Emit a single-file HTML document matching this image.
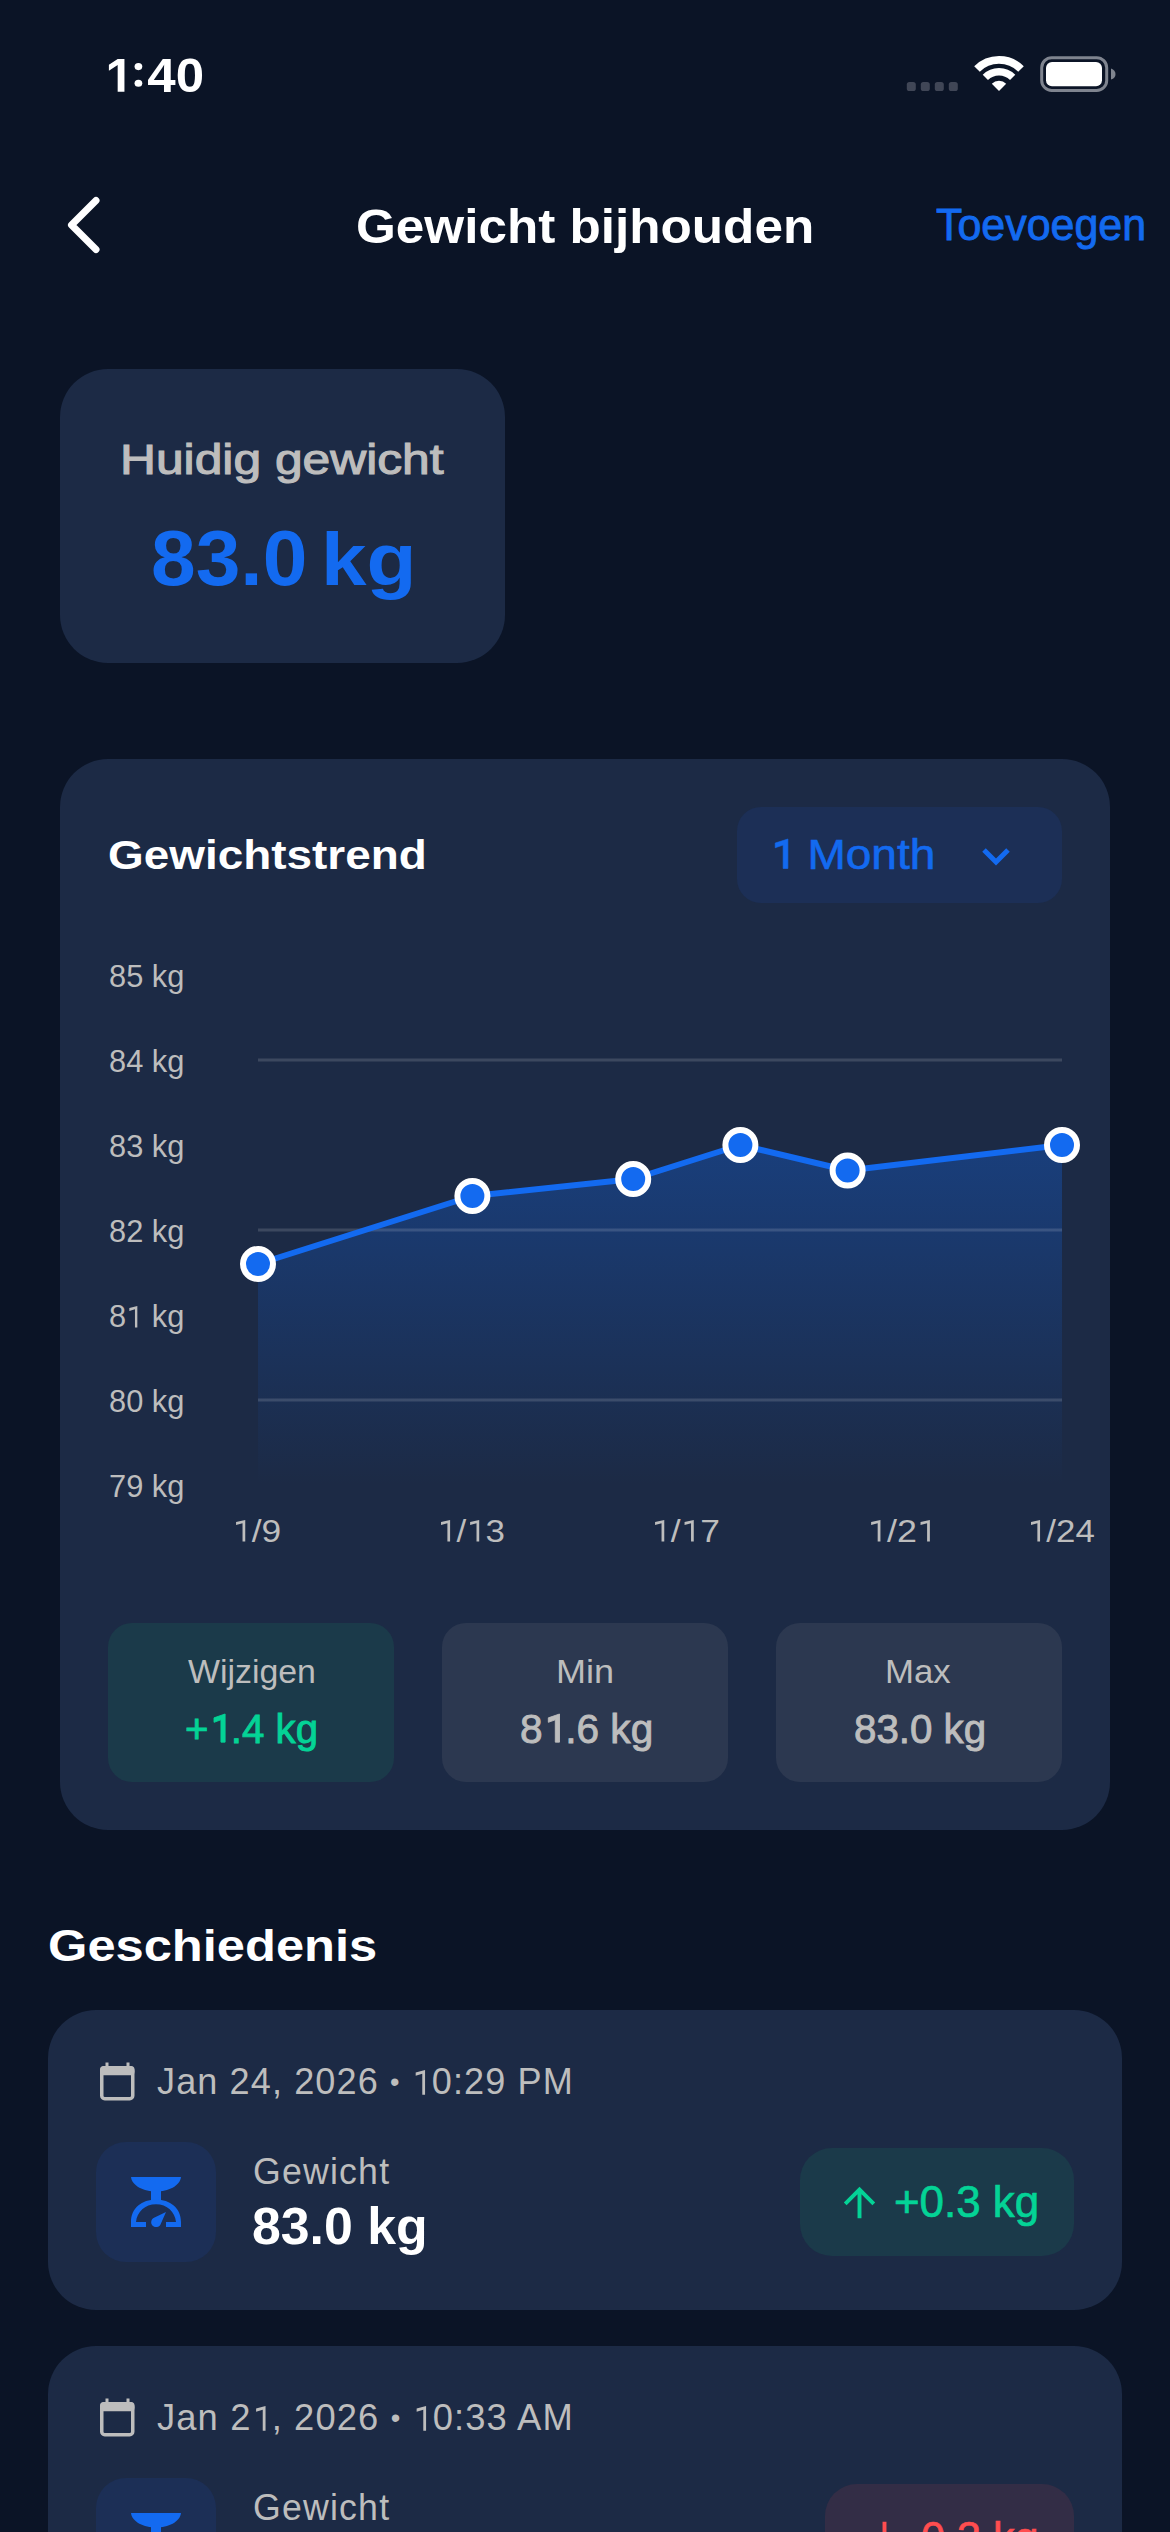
<!DOCTYPE html>
<html><head><meta charset="utf-8">
<style>
html,body{margin:0;padding:0;}
body{width:1170px;height:2532px;background:#0B1426;position:relative;overflow:hidden;font-family:"Liberation Sans",sans-serif;}
.card{position:absolute;background:#1C2A45;}
.box{position:absolute;}
.tx{position:absolute;}
.bu{font-size:27px;position:relative;top:-3px;}
.one{display:inline-block;vertical-align:baseline;overflow:visible;}
.bl{display:inline-block;width:0;height:0;vertical-align:baseline;}
svg{display:block;}
</style></head><body>
<!-- status bar -->
<svg style="position:absolute;left:900px;top:45px" width="230" height="60" viewBox="900 45 230 60">
<rect x="906.8" y="82" width="9" height="9" rx="2.6" fill="#404656"/>
<rect x="920.8" y="82" width="9" height="9" rx="2.6" fill="#404656"/>
<rect x="934.8" y="82" width="9" height="9" rx="2.6" fill="#404656"/>
<rect x="948.8" y="82" width="9" height="9" rx="2.6" fill="#404656"/>
<path d="M999,91 L991.8,83.8 A10.2,10.2 0 0 1 1006.2,83.8 Z" fill="#FFFFFF"/>
<path d="M985.35,77.35 A19.3,19.3 0 0 1 1012.65,77.35" fill="none" stroke="#FFFFFF" stroke-width="7.4"/>
<path d="M977.0,69.0 A31.2,31.2 0 0 1 1021.0,69.0" fill="none" stroke="#FFFFFF" stroke-width="7.9"/>
<rect x="1041.7" y="57.7" width="65" height="32.7" rx="10" fill="none" stroke="#7F848F" stroke-width="3"/>
<rect x="1046" y="62" width="56" height="24.2" rx="6" fill="#FFFFFF"/>
<path d="M1111,68.5 Q1115.5,70 1115.5,74 Q1115.5,78.2 1111,79.6 Z" fill="#7F848F"/>
</svg>
<!-- back chevron -->
<svg style="position:absolute;left:50px;top:180px" width="80" height="90" viewBox="50 180 80 90">
<path d="M96,200.5 L71.5,225 L96,249.5" fill="none" stroke="#FFFFFF" stroke-width="7" stroke-linecap="round" stroke-linejoin="round"/>
</svg>
<!-- current weight card -->
<div class="card" style="left:60px;top:369px;width:445px;height:294px;border-radius:48px;"></div>
<!-- chart card -->
<div class="card" style="left:60px;top:759px;width:1050px;height:1071px;border-radius:48px;"></div>
<div class="box" style="left:737px;top:807px;width:325px;height:96px;border-radius:24px;background:#1C2F56;"></div>
<svg style="position:absolute;left:975px;top:840px" width="45" height="30" viewBox="975 840 45 30">
<path d="M984,850 L996,862 L1008,850" fill="none" stroke="#136AF0" stroke-width="5"/>
</svg>
<svg style="position:absolute;left:0;top:0" width="1170" height="1600" viewBox="0 0 1170 1600">
<defs><linearGradient id="fg" x1="0" y1="1145" x2="0" y2="1485" gradientUnits="userSpaceOnUse">
<stop offset="0" stop-color="#136AF0" stop-opacity="0.32"/><stop offset="1" stop-color="#136AF0" stop-opacity="0"/></linearGradient></defs>
<path d="M258,1264 L472.4,1196 L633.2,1179 L740.4,1145 L847.6,1170.5 L1062,1145 L1062,1485 L258,1485 Z" fill="url(#fg)"/>
<rect x="258" y="1058.5" width="804" height="3" fill="rgba(255,255,255,0.14)"/>
<rect x="258" y="1228.5" width="804" height="3" fill="rgba(255,255,255,0.14)"/>
<rect x="258" y="1398.5" width="804" height="3" fill="rgba(255,255,255,0.14)"/>
<path d="M258,1264 L472.4,1196 L633.2,1179 L740.4,1145 L847.6,1170.5 L1062,1145" fill="none" stroke="#136AF0" stroke-width="6" stroke-linejoin="round"/>
<circle cx="258" cy="1264" r="15" fill="#136AF0" stroke="#FFFFFF" stroke-width="6"/>
<circle cx="472.4" cy="1196" r="15" fill="#136AF0" stroke="#FFFFFF" stroke-width="6"/>
<circle cx="633.2" cy="1179" r="15" fill="#136AF0" stroke="#FFFFFF" stroke-width="6"/>
<circle cx="740.4" cy="1145" r="15" fill="#136AF0" stroke="#FFFFFF" stroke-width="6"/>
<circle cx="847.6" cy="1170.5" r="15" fill="#136AF0" stroke="#FFFFFF" stroke-width="6"/>
<circle cx="1062" cy="1145" r="15" fill="#136AF0" stroke="#FFFFFF" stroke-width="6"/>
</svg>
<!-- stat boxes -->
<div class="box" style="left:108px;top:1623px;width:286px;height:158.5px;border-radius:24px;background:#1B3A4A;"></div>
<div class="box" style="left:442px;top:1623px;width:286px;height:158.5px;border-radius:24px;background:#2C3850;"></div>
<div class="box" style="left:776px;top:1623px;width:286px;height:158.5px;border-radius:24px;background:#2C3850;"></div>
<!-- history -->
<div class="card" style="left:48px;top:2010px;width:1074px;height:300px;border-radius:48px;"></div>
<svg style="position:absolute;left:99.6px;top:2062.3px" width="36" height="40" viewBox="0 0 36 40">
<rect x="1.75" y="5.75" width="31" height="31" rx="3" fill="none" stroke="#BDBDBD" stroke-width="3.5"/>
<rect x="0" y="4" width="34.5" height="9.3" rx="3.5" fill="#BDBDBD"/>
<rect x="5.5" y="0.5" width="3" height="7" fill="#BDBDBD"/>
<rect x="26.5" y="0.5" width="3" height="7" fill="#BDBDBD"/>
</svg>
<div class="box" style="left:96px;top:2142px;width:120px;height:120px;border-radius:30px;background:#1C2F56;"></div>
<svg style="position:absolute;left:131px;top:2177px" width="50" height="50" viewBox="0 0 50 50">
<path d="M0,0 H50 C49,9 37,14.5 25,14.5 C13,14.5 1,9 0,0 Z" fill="#136AF0"/>
<rect x="20" y="13" width="10" height="11" fill="#136AF0"/>
<path d="M0,50 V45 C0,31 11,22.5 25,22.5 C39,22.5 50,31 50,45 V50 H35 V45 H45 C44,35 36,27.3 25,27.3 C14,27.3 6,35 5,45 H15 V50 Z" fill="#136AF0"/>
<path d="M35,35 L29.5,47.5 C28,51 22,51 20.5,47 C19.5,44 21,41.5 23.5,40.5 Z" fill="#136AF0"/>
</svg>
<div class="box" style="left:800px;top:2148px;width:274px;height:108px;border-radius:32px;background:#1B3A4A;"></div>
<svg style="position:absolute;left:836.2px;top:2178.7px" width="47" height="47" viewBox="0 0 24 24"><path d="M4 12l1.41 1.41L11 7.83V20h2V7.83l5.58 5.59L20 12l-8-8-8 8z" fill="#04D396"/></svg>

<div class="card" style="left:48px;top:2346px;width:1074px;height:300px;border-radius:48px;"></div>
<svg style="position:absolute;left:99.6px;top:2398.3px" width="36" height="40" viewBox="0 0 36 40">
<rect x="1.75" y="5.75" width="31" height="31" rx="3" fill="none" stroke="#BDBDBD" stroke-width="3.5"/>
<rect x="0" y="4" width="34.5" height="9.3" rx="3.5" fill="#BDBDBD"/>
<rect x="5.5" y="0.5" width="3" height="7" fill="#BDBDBD"/>
<rect x="26.5" y="0.5" width="3" height="7" fill="#BDBDBD"/>
</svg>
<div class="box" style="left:96px;top:2478px;width:120px;height:120px;border-radius:30px;background:#1C2F56;"></div>
<svg style="position:absolute;left:131px;top:2513px" width="50" height="50" viewBox="0 0 50 50">
<path d="M0,0 H50 C49,9 37,14.5 25,14.5 C13,14.5 1,9 0,0 Z" fill="#136AF0"/>
<rect x="20" y="13" width="10" height="11" fill="#136AF0"/>
<path d="M0,50 V45 C0,31 11,22.5 25,22.5 C39,22.5 50,31 50,45 V50 H35 V45 H45 C44,35 36,27.3 25,27.3 C14,27.3 6,35 5,45 H15 V50 Z" fill="#136AF0"/>
<path d="M35,35 L29.5,47.5 C28,51 22,51 20.5,47 C19.5,44 21,41.5 23.5,40.5 Z" fill="#136AF0"/>
</svg>
<div class="box" style="left:824.5px;top:2484px;width:249.5px;height:108px;border-radius:32px;background:#332D46;"></div>
<svg style="position:absolute;left:860.5px;top:2513.7px" width="47" height="47" viewBox="0 0 24 24"><path d="M20 12l-1.41-1.41L13 16.17V4h-2v12.17l-5.58-5.59L4 12l8 8 8-8z" fill="#FF4D4F"/></svg>

<!-- texts -->
<div id="t_time" class="tx" style="left:101.65px;top:51.51px;font-size:47.5px;line-height:47.5px;font-weight:700;color:#FFFFFF;white-space:nowrap;transform:scaleX(1.0741);transform-origin:0 0;"><svg class="one" width="26.41" height="32.68" viewBox="0 -0.688 0.556 0.688"><path d="M0.4400,-0.6880 L0.4400,0.0000 L0.3072,0.0000 L0.3072,-0.5607 L0.1352,-0.4417 L0.1352,-0.5662 L0.3072,-0.6880 Z" fill="currentColor"/></svg><svg class="one" width="15.82" height="32.68" viewBox="0 -0.688 0.333 0.688"><circle cx="0.1665" cy="-0.1768" r="0.0758" fill="currentColor"/><circle cx="0.1665" cy="-0.5284" r="0.0758" fill="currentColor"/></svg>40<span class="bl"></span></div>
<div id="t_title" class="tx" style="left:355.92px;top:203.01px;font-size:47.5px;line-height:47.5px;font-weight:700;color:#FFFFFF;white-space:nowrap;transform:scaleX(1.0784);transform-origin:0 0;">Gewicht bijhouden<span class="bl"></span></div>
<div id="t_add" class="tx" style="left:936.00px;top:202.32px;font-size:44.8px;line-height:44.8px;font-weight:400;color:#136AF0;white-space:nowrap;-webkit-text-stroke:0.9px #136AF0;transform:scaleX(0.9581);transform-origin:0 0;">Toevoegen<span class="bl"></span></div>
<div id="t_hg" class="tx" style="left:120.16px;top:438.81px;font-size:42px;line-height:42px;font-weight:400;color:#BDBDBD;white-space:nowrap;-webkit-text-stroke:1.1px #BDBDBD;transform:scaleX(1.1848);transform-origin:0 0;">Huidig gewicht<span class="bl"></span></div>
<div id="t_cur" class="tx" style="left:150.93px;top:520.01px;font-size:77.5px;line-height:77.5px;font-weight:700;color:#136AF0;white-space:nowrap;transform:scaleX(1.0366);transform-origin:0 0;">83.0<span class="bl"></span></div>
<div id="t_curkg" class="tx" style="left:321.03px;top:523.00px;font-size:73.5px;line-height:73.5px;font-weight:700;color:#136AF0;white-space:nowrap;transform:scaleX(1.1134);transform-origin:0 0;">kg<span class="bl"></span></div>
<div id="t_trend" class="tx" style="left:107.80px;top:834.82px;font-size:40.5px;line-height:40.5px;font-weight:700;color:#FFFFFF;white-space:nowrap;transform:scaleX(1.1330);transform-origin:0 0;">Gewichtstrend<span class="bl"></span></div>
<div id="t_month" class="tx" style="left:768.90px;top:832.82px;font-size:42.9px;line-height:42.9px;font-weight:400;color:#136AF0;white-space:nowrap;-webkit-text-stroke:0.6px #136AF0;transform:scaleX(1.0737);transform-origin:0 0;"><svg class="one" width="23.85" height="29.52" viewBox="0 -0.688 0.556 0.688"><path d="M0.4100,-0.6880 L0.4100,0.0000 L0.3068,0.0000 L0.3068,-0.5463 L0.1348,-0.4844 L0.1348,-0.5937 Z" fill="currentColor" stroke="currentColor" stroke-width="0.0140" stroke-linejoin="round"/></svg> Month<span class="bl"></span></div>
<div id="t_y85" class="tx" style="left:109.01px;top:961.31px;font-size:31.2px;line-height:31.2px;font-weight:400;color:#BDBDBD;white-space:nowrap;transform:scaleX(0.9876);transform-origin:0 0;">85 kg<span class="bl"></span></div>
<div id="t_y84" class="tx" style="left:109.01px;top:1046.31px;font-size:31.2px;line-height:31.2px;font-weight:400;color:#BDBDBD;white-space:nowrap;transform:scaleX(0.9876);transform-origin:0 0;">84 kg<span class="bl"></span></div>
<div id="t_y83" class="tx" style="left:109.01px;top:1131.31px;font-size:31.2px;line-height:31.2px;font-weight:400;color:#BDBDBD;white-space:nowrap;transform:scaleX(0.9876);transform-origin:0 0;">83 kg<span class="bl"></span></div>
<div id="t_y82" class="tx" style="left:109.01px;top:1216.31px;font-size:31.2px;line-height:31.2px;font-weight:400;color:#BDBDBD;white-space:nowrap;transform:scaleX(0.9876);transform-origin:0 0;">82 kg<span class="bl"></span></div>
<div id="t_y81" class="tx" style="left:109.01px;top:1301.31px;font-size:31.2px;line-height:31.2px;font-weight:400;color:#BDBDBD;white-space:nowrap;transform:scaleX(0.9876);transform-origin:0 0;">8<svg class="one" width="17.35" height="21.47" viewBox="0 -0.688 0.556 0.688"><path d="M0.3750,-0.6880 L0.3750,0.0000 L0.2979,0.0000 L0.2979,-0.5834 L0.1149,-0.5277 L0.1149,-0.6206 Z" fill="currentColor"/></svg> kg<span class="bl"></span></div>
<div id="t_y80" class="tx" style="left:109.01px;top:1386.31px;font-size:31.2px;line-height:31.2px;font-weight:400;color:#BDBDBD;white-space:nowrap;transform:scaleX(0.9876);transform-origin:0 0;">80 kg<span class="bl"></span></div>
<div id="t_y79" class="tx" style="left:109.01px;top:1471.31px;font-size:31.2px;line-height:31.2px;font-weight:400;color:#BDBDBD;white-space:nowrap;transform:scaleX(0.9876);transform-origin:0 0;">79 kg<span class="bl"></span></div>
<div id="t_x1_9" class="tx" style="left:232.31px;top:1515.51px;font-size:31.2px;line-height:31.2px;font-weight:400;color:#BDBDBD;white-space:nowrap;transform:scaleX(1.1328);transform-origin:0 0;"><svg class="one" width="17.35" height="21.47" viewBox="0 -0.688 0.556 0.688"><path d="M0.3750,-0.6880 L0.3750,0.0000 L0.2979,0.0000 L0.2979,-0.5834 L0.1149,-0.5277 L0.1149,-0.6206 Z" fill="currentColor"/></svg>/9<span class="bl"></span></div>
<div id="t_x1_13" class="tx" style="left:436.86px;top:1515.51px;font-size:31.2px;line-height:31.2px;font-weight:400;color:#BDBDBD;white-space:nowrap;transform:scaleX(1.1197);transform-origin:0 0;"><svg class="one" width="17.35" height="21.47" viewBox="0 -0.688 0.556 0.688"><path d="M0.3750,-0.6880 L0.3750,0.0000 L0.2979,0.0000 L0.2979,-0.5834 L0.1149,-0.5277 L0.1149,-0.6206 Z" fill="currentColor"/></svg>/<svg class="one" width="17.35" height="21.47" viewBox="0 -0.688 0.556 0.688"><path d="M0.3750,-0.6880 L0.3750,0.0000 L0.2979,0.0000 L0.2979,-0.5834 L0.1149,-0.5277 L0.1149,-0.6206 Z" fill="currentColor"/></svg>3<span class="bl"></span></div>
<div id="t_x1_17" class="tx" style="left:650.84px;top:1515.51px;font-size:31.2px;line-height:31.2px;font-weight:400;color:#BDBDBD;white-space:nowrap;transform:scaleX(1.1344);transform-origin:0 0;"><svg class="one" width="17.35" height="21.47" viewBox="0 -0.688 0.556 0.688"><path d="M0.3750,-0.6880 L0.3750,0.0000 L0.2979,0.0000 L0.2979,-0.5834 L0.1149,-0.5277 L0.1149,-0.6206 Z" fill="currentColor"/></svg>/<svg class="one" width="17.35" height="21.47" viewBox="0 -0.688 0.556 0.688"><path d="M0.3750,-0.6880 L0.3750,0.0000 L0.2979,0.0000 L0.2979,-0.5834 L0.1149,-0.5277 L0.1149,-0.6206 Z" fill="currentColor"/></svg>7<span class="bl"></span></div>
<div id="t_x1_21" class="tx" style="left:866.50px;top:1515.51px;font-size:31.2px;line-height:31.2px;font-weight:400;color:#BDBDBD;white-space:nowrap;transform:scaleX(1.1494);transform-origin:0 0;"><svg class="one" width="17.35" height="21.47" viewBox="0 -0.688 0.556 0.688"><path d="M0.3750,-0.6880 L0.3750,0.0000 L0.2979,0.0000 L0.2979,-0.5834 L0.1149,-0.5277 L0.1149,-0.6206 Z" fill="currentColor"/></svg>/2<svg class="one" width="17.35" height="21.47" viewBox="0 -0.688 0.556 0.688"><path d="M0.3750,-0.6880 L0.3750,0.0000 L0.2979,0.0000 L0.2979,-0.5834 L0.1149,-0.5277 L0.1149,-0.6206 Z" fill="currentColor"/></svg><span class="bl"></span></div>
<div id="t_x1_24" class="tx" style="left:1026.87px;top:1515.51px;font-size:31.2px;line-height:31.2px;font-weight:400;color:#BDBDBD;white-space:nowrap;transform:scaleX(1.1164);transform-origin:0 0;"><svg class="one" width="17.35" height="21.47" viewBox="0 -0.688 0.556 0.688"><path d="M0.3750,-0.6880 L0.3750,0.0000 L0.2979,0.0000 L0.2979,-0.5834 L0.1149,-0.5277 L0.1149,-0.6206 Z" fill="currentColor"/></svg>/24<span class="bl"></span></div>
<div id="t_slWijzigen" class="tx" style="left:188.00px;top:1656.31px;font-size:32.7px;line-height:32.7px;font-weight:400;color:#BDBDBD;white-space:nowrap;transform:scaleX(1.0358);transform-origin:0 0;">Wijzigen<span class="bl"></span></div>
<div id="t_svWijzigen" class="tx" style="left:185.02px;top:1708.61px;font-size:40.9px;line-height:40.9px;font-weight:400;color:#04D396;white-space:nowrap;-webkit-text-stroke:0.9px #04D396;transform:scaleX(0.9836);transform-origin:0 0;">+<svg class="one" width="22.74" height="28.14" viewBox="0 -0.688 0.556 0.688"><path d="M0.4100,-0.6880 L0.4100,0.0000 L0.3068,0.0000 L0.3068,-0.5463 L0.1348,-0.4844 L0.1348,-0.5937 Z" fill="currentColor" stroke="currentColor" stroke-width="0.0220" stroke-linejoin="round"/></svg>.4 kg<span class="bl"></span></div>
<div id="t_slMin" class="tx" style="left:555.81px;top:1656.31px;font-size:32.7px;line-height:32.7px;font-weight:400;color:#BDBDBD;white-space:nowrap;transform:scaleX(1.1022);transform-origin:0 0;">Min<span class="bl"></span></div>
<div id="t_svMin" class="tx" style="left:519.98px;top:1708.61px;font-size:40.9px;line-height:40.9px;font-weight:400;color:#BDBDBD;white-space:nowrap;-webkit-text-stroke:0.9px #BDBDBD;transform:scaleX(0.9933);transform-origin:0 0;">8<svg class="one" width="22.74" height="28.14" viewBox="0 -0.688 0.556 0.688"><path d="M0.4100,-0.6880 L0.4100,0.0000 L0.3068,0.0000 L0.3068,-0.5463 L0.1348,-0.4844 L0.1348,-0.5937 Z" fill="currentColor" stroke="currentColor" stroke-width="0.0220" stroke-linejoin="round"/></svg>.6 kg<span class="bl"></span></div>
<div id="t_slMax" class="tx" style="left:884.90px;top:1656.31px;font-size:32.7px;line-height:32.7px;font-weight:400;color:#BDBDBD;white-space:nowrap;transform:scaleX(1.0641);transform-origin:0 0;">Max<span class="bl"></span></div>
<div id="t_svMax" class="tx" style="left:854.02px;top:1708.61px;font-size:40.9px;line-height:40.9px;font-weight:400;color:#BDBDBD;white-space:nowrap;-webkit-text-stroke:0.9px #BDBDBD;transform:scaleX(0.9849);transform-origin:0 0;">83.0 kg<span class="bl"></span></div>
<div id="t_hist" class="tx" style="left:47.53px;top:1923.41px;font-size:45px;line-height:45px;font-weight:700;color:#FFFFFF;white-space:nowrap;transform:scaleX(1.1252);transform-origin:0 0;">Geschiedenis<span class="bl"></span></div>
<div id="t_date0" class="tx" style="left:156.99px;top:2064.40px;font-size:36px;line-height:36px;font-weight:400;color:#BDBDBD;white-space:nowrap;letter-spacing:1.1px;transform:scaleX(1.0021);transform-origin:0 0;">Jan 24, 2026 <span class="bu">•</span> <svg class="one" width="20.02" height="24.77" viewBox="0 -0.688 0.556 0.688"><path d="M0.3750,-0.6880 L0.3750,0.0000 L0.2979,0.0000 L0.2979,-0.5834 L0.1149,-0.5277 L0.1149,-0.6206 Z" fill="currentColor"/></svg>0:29 PM<span class="bl"></span></div>
<div id="t_gw0" class="tx" style="left:252.83px;top:2154.01px;font-size:36px;line-height:36px;font-weight:400;color:#BDBDBD;white-space:nowrap;letter-spacing:1.2px;transform:scaleX(0.9913);transform-origin:0 0;">Gewicht<span class="bl"></span></div>
<div id="t_gv0" class="tx" style="left:252.41px;top:2201.01px;font-size:51.5px;line-height:51.5px;font-weight:700;color:#FFFFFF;white-space:nowrap;transform:scaleX(1.0057);transform-origin:0 0;">83.0 kg<span class="bl"></span></div>
<div id="t_bd0" class="tx" style="left:894.03px;top:2179.80px;font-size:43.8px;line-height:43.8px;font-weight:400;color:#04D396;white-space:nowrap;-webkit-text-stroke:0.7px #04D396;transform:scaleX(1.0016);transform-origin:0 0;">+0.3 kg<span class="bl"></span></div>
<div id="t_date1" class="tx" style="left:156.99px;top:2400.40px;font-size:36px;line-height:36px;font-weight:400;color:#BDBDBD;white-space:nowrap;letter-spacing:1.1px;transform:scaleX(1.0097);transform-origin:0 0;">Jan 2<svg class="one" width="20.02" height="24.77" viewBox="0 -0.688 0.556 0.688"><path d="M0.3750,-0.6880 L0.3750,0.0000 L0.2979,0.0000 L0.2979,-0.5834 L0.1149,-0.5277 L0.1149,-0.6206 Z" fill="currentColor"/></svg>, 2026 <span class="bu">•</span> <svg class="one" width="20.02" height="24.77" viewBox="0 -0.688 0.556 0.688"><path d="M0.3750,-0.6880 L0.3750,0.0000 L0.2979,0.0000 L0.2979,-0.5834 L0.1149,-0.5277 L0.1149,-0.6206 Z" fill="currentColor"/></svg>0:33 AM<span class="bl"></span></div>
<div id="t_gw1" class="tx" style="left:252.83px;top:2490.01px;font-size:36px;line-height:36px;font-weight:400;color:#BDBDBD;white-space:nowrap;letter-spacing:1.2px;transform:scaleX(0.9913);transform-origin:0 0;">Gewicht<span class="bl"></span></div>
<div id="t_gv1" class="tx" style="left:254.70px;top:2536.41px;font-size:51.5px;line-height:51.5px;font-weight:700;color:#FFFFFF;white-space:nowrap;transform:scaleX(1.0000);transform-origin:0 0;">82.7 kg<span class="bl"></span></div>
<div id="t_bd1" class="tx" style="left:921.16px;top:2515.80px;font-size:43.8px;line-height:43.8px;font-weight:400;color:#FF4D4F;white-space:nowrap;-webkit-text-stroke:0.7px #FF4D4F;transform:scaleX(0.9852);transform-origin:0 0;">0.3 kg<span class="bl"></span></div>
</body></html>
